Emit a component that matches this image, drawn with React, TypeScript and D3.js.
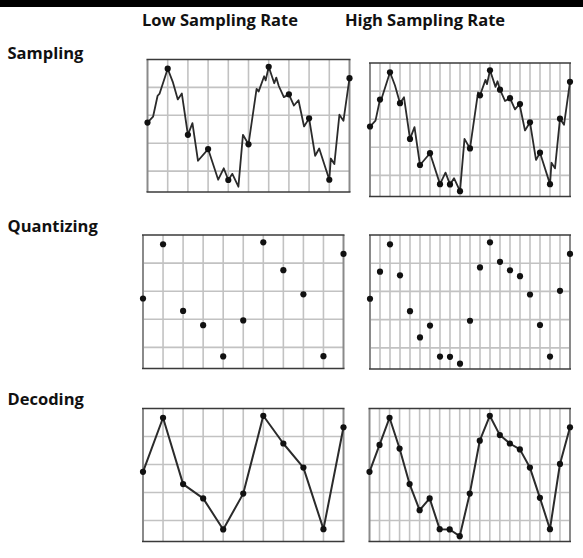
import React from "react";
import * as d3 from "d3";

// ---- data ----
const columnHeaders = ["Low Sampling Rate", "High Sampling Rate"];
const rowLabels = ["Sampling", "Quantizing", "Decoding"];

// sample values (grid levels: horizontal grid lines at 1..4, top border = 5)
const highSamples = [2.74, 3.7, 4.67, 3.57, 2.3, 1.37, 1.79, 0.69, 0.68, 0.44, 1.96, 3.85, 4.74, 4.05, 3.75, 3.54, 2.89, 1.81, 0.69, 3.02, 4.33];
const lowSamples = [2.74, 4.67, 2.3, 1.79, 0.68, 1.96, 4.74, 3.75, 2.89, 0.69, 4.33];

// continuous analog signal (x in high-rate sample units 0..20)
const signalX = [0, 0.55, 1, 1.2, 2, 2.5, 3, 3.4, 4, 4.45, 5, 6, 7, 7.55, 8, 8.4, 9, 9.45, 10, 10.8, 11, 11.55, 11.7, 12, 12.55, 12.75, 13, 13.5, 14, 14.5, 14.95, 15.5, 16, 16.6, 17, 18, 18.15, 18.5, 19, 19.4, 20];
const signalY = [2.74, 2.95, 3.7, 3.78, 4.67, 4.2, 3.57, 3.78, 2.3, 2.72, 1.37, 1.79, 0.69, 1.1, 0.68, 0.9, 0.44, 2.3, 1.96, 3.95, 3.85, 4.4, 4.25, 4.74, 4.15, 4.35, 4.05, 3.65, 3.75, 3.35, 3.54, 2.6, 2.89, 1.55, 1.81, 0.69, 1.45, 1.25, 3.02, 2.8, 4.33];

const gridLevels = [1, 2, 3, 4];
const yDomain: [number, number] = [0.25, 5];
const xDomain: [number, number] = [0, 20];

type Frame = { x0: number; x1: number; y0: number; y1: number };
const frames: Frame[][] = [
  [
    { x0: 147.5, x1: 349.5, y0: 59.5, y1: 192 },
    { x0: 370, x1: 570, y0: 63, y1: 196.5 },
  ],
  [
    { x0: 143, x1: 343.5, y0: 235, y1: 368.5 },
    { x0: 370, x1: 570, y0: 235, y1: 369 },
  ],
  [
    { x0: 143, x1: 343.5, y0: 408.5, y1: 541.5 },
    { x0: 369.5, x1: 570, y0: 408.5, y1: 541.5 },
  ],
];

const FONT = "'Open Sans', 'DejaVu Sans', sans-serif";

function Panel({ frame, mode, rate }: { frame: Frame; mode: number; rate: number }) {
  const x = d3.scaleLinear().domain(xDomain).range([frame.x0, frame.x1]);
  const y = d3.scaleLinear().domain(yDomain).range([frame.y1, frame.y0]);
  const step = rate === 0 ? 2 : 1;
  const samples = rate === 0 ? lowSamples : highSamples;
  const pts: [number, number][] = samples.map((v, i) => [i * step, v]);
  const vTicks = d3.range(xDomain[0] + step, xDomain[1], step);
  const line = d3
    .line<[number, number]>()
    .x((d) => x(d[0]))
    .y((d) => y(d[1]));
  const signal: [number, number][] = signalX.map((sx, i) => [sx, signalY[i]]);
  return (
    <g>
      <rect x={frame.x0} y={frame.y0} width={frame.x1 - frame.x0} height={frame.y1 - frame.y0} fill="#fff" />
      {vTicks.map((t) => (
        <line key={"v" + t} x1={x(t)} x2={x(t)} y1={frame.y0} y2={frame.y1} stroke="#c2c2c2" strokeWidth={1.6} />
      ))}
      {gridLevels.map((g) => (
        <line key={"h" + g} x1={frame.x0} x2={frame.x1} y1={y(g)} y2={y(g)} stroke="#c2c2c2" strokeWidth={1.6} />
      ))}
      <line x1={frame.x0} x2={frame.x0} y1={frame.y0} y2={frame.y1} stroke="#8a8a8a" strokeWidth={2} />
      <line x1={frame.x1} x2={frame.x1} y1={frame.y0} y2={frame.y1} stroke="#8a8a8a" strokeWidth={2} />
      <line x1={frame.x0 - 1} x2={frame.x1 + 1} y1={frame.y0} y2={frame.y0} stroke="#3a3a3a" strokeWidth={1.5} />
      <line x1={frame.x0 - 1} x2={frame.x1 + 1} y1={frame.y1} y2={frame.y1} stroke="#3a3a3a" strokeWidth={1.5} />
      {mode === 0 && <path d={line(signal) || ""} fill="none" stroke="#2b2b2b" strokeWidth={1.8} strokeLinejoin="round" />}
      {mode === 2 && <path d={line(pts) || ""} fill="none" stroke="#2b2b2b" strokeWidth={2} strokeLinejoin="round" />}
      {pts.map((p, i) => (
        <circle key={i} cx={x(p[0])} cy={y(p[1])} r={3.1} fill="#111" />
      ))}
    </g>
  );
}

export default function App() {
  const headerX = [142, 345];
  const labelBaselines = [58.5, 231.5, 404.5];
  return (
    <svg
      width={583}
      height={558}
      style={{ position: "absolute", left: 0, top: 0, background: "#fff" }}
      fontFamily={FONT}
    >
      <rect x={0} y={0} width={583} height={558} fill="#fff" />
      <rect x={0} y={0} width={583} height={7} fill="#000" />
      {columnHeaders.map((h, i) => (
        <text key={h} x={headerX[i]} y={26} fontSize={16.5} fontWeight="bold" fill="#111">
          {h}
        </text>
      ))}
      {rowLabels.map((l, i) => (
        <text key={l} x={7.5} y={labelBaselines[i]} fontSize={16.5} fontWeight="bold" fill="#111">
          {l}
        </text>
      ))}
      {frames.map((row, r) =>
        row.map((f, c) => <Panel key={r + "-" + c} frame={f} mode={r} rate={c} />)
      )}
    </svg>
  );
}
